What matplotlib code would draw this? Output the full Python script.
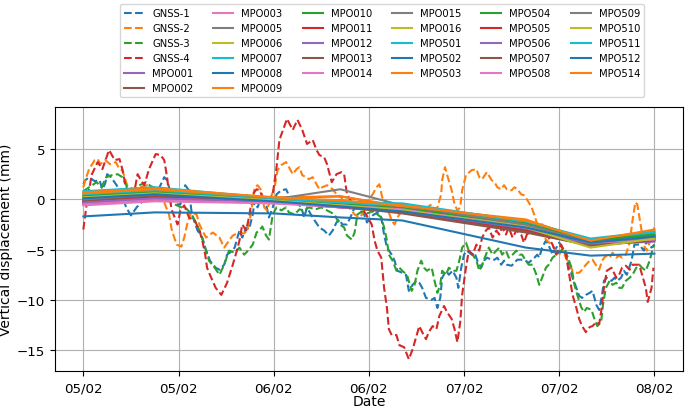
"""GNSS vs. levelling (MPO) vertical displacement time series -> out.png"""
import matplotlib
matplotlib.use('Agg')
import matplotlib.pyplot as plt

# x axis: one unit = one tick interval on the date axis
DATE_TICKS = [0, 1, 2, 3, 4, 5, 6]
DATE_LABELS = ['05/02', '05/02', '06/02', '06/02', '07/02', '07/02', '08/02']

# ---- GNSS stations (dense, dashed) ----
GNSS_1_X = [0.00, 0.02, 0.06, 0.12, 0.17, 0.20, 0.23, 0.25, 0.29, 0.35, 0.40, 0.45, 0.50, 0.56, 0.61,
            0.66, 0.72, 0.80, 0.85, 0.88, 0.92, 0.98, 1.02, 1.07, 1.11, 1.14, 1.20, 1.25, 1.28, 1.33,
            1.39, 1.43, 1.48, 1.51, 1.54, 1.59, 1.61, 1.64, 1.67, 1.71, 1.74, 1.78, 1.80, 1.83, 1.87,
            1.92, 1.95, 1.99, 2.03, 2.08, 2.13, 2.16, 2.20, 2.24, 2.29, 2.32, 2.35, 2.39, 2.43, 2.48,
            2.53, 2.58, 2.62, 2.66, 2.69, 2.72, 2.77, 2.82, 2.85, 2.90, 2.95, 2.98, 3.04, 3.09, 3.13,
            3.16, 3.19, 3.24, 3.27, 3.30, 3.35, 3.39, 3.42, 3.46, 3.50, 3.53, 3.56, 3.60, 3.66, 3.69,
            3.72, 3.75, 3.77, 3.81, 3.84, 3.88, 3.92, 3.94, 3.97, 4.00, 4.03, 4.08, 4.11, 4.14, 4.18,
            4.21, 4.24, 4.29, 4.32, 4.35, 4.39, 4.42, 4.45, 4.50, 4.53, 4.56, 4.60, 4.63, 4.68, 4.74,
            4.77, 4.79, 4.82, 4.86, 4.89, 4.93, 4.97, 5.00, 5.03, 5.07, 5.11, 5.14, 5.18, 5.21, 5.24,
            5.28, 5.32, 5.35, 5.39, 5.42, 5.45, 5.47, 5.50, 5.55, 5.58, 5.61, 5.65, 5.68, 5.71, 5.76,
            5.79, 5.84, 5.89, 5.92, 5.97, 6.00]
GNSS_1_Y = [1.5, 1.9, 2.2, 1.8, 1.9, 1.0, 1.6, 2.5, 2.2, 1.4, 0.5, -0.8, -1.6, -0.8, -0.3,
            0.2, 0.6, 1.2, 2.2, 1.9, 0.5, -0.5, -0.5, 1.4, 0.9, -1.5, -3.1, -3.8, -4.8, -6.1,
            -6.8, -7.0, -6.5, -5.5, -5.3, -4.8, -4.1, -3.1, -3.8, -2.8, -3.0, -1.5, -0.1, -0.8, 0.2,
            -0.5, -1.8, -0.8, 0.5, 0.9, 1.0, 0.4, -0.5, -0.3, -0.8, -1.8, -0.8, -1.5, -2.1, -2.8,
            -3.1, -3.6, -3.1, -2.3, -2.0, -2.5, -2.5, -1.5, -0.8, -1.1, -1.5, -2.3, -1.6, -1.3, -1.8,
            -3.5, -4.8, -5.5, -6.1, -7.1, -7.3, -7.5, -9.1, -8.5, -8.1, -8.3, -8.8, -9.8, -10.0, -9.8,
            -10.8, -9.8, -7.8, -7.1, -7.5, -7.1, -7.8, -8.8, -6.8, -5.5, -5.1, -5.5, -5.3, -6.1, -6.8,
            -6.1, -5.8, -6.0, -6.0, -5.8, -6.5, -6.1, -6.5, -6.6, -6.3, -6.0, -6.0, -6.0, -6.3, -5.8,
            -5.5, -5.8, -4.8, -4.1, -4.6, -5.5, -4.8, -4.3, -4.8, -5.5, -6.8, -7.8, -8.8, -9.6, -9.8,
            -9.5, -9.3, -9.1, -10.5, -11.0, -9.5, -8.1, -7.8, -8.1, -7.8, -8.1, -7.8, -7.1, -7.5, -6.1,
            -4.5, -4.5, -5.1, -4.1, -4.8, -4.5]

GNSS_2_X = [0.00, 0.02, 0.06, 0.12, 0.15, 0.18, 0.23, 0.28, 0.34, 0.38, 0.41, 0.46, 0.54, 0.60, 0.67,
            0.75, 0.80, 0.83, 0.87, 0.90, 0.93, 0.98, 1.03, 1.06, 1.09, 1.13, 1.19, 1.22, 1.25, 1.29,
            1.36, 1.43, 1.48, 1.53, 1.57, 1.64, 1.69, 1.72, 1.76, 1.80, 1.83, 1.87, 1.90, 1.93, 1.97,
            2.01, 2.04, 2.08, 2.13, 2.16, 2.20, 2.24, 2.27, 2.30, 2.34, 2.37, 2.41, 2.45, 2.48, 2.51,
            2.56, 2.62, 2.66, 2.71, 2.74, 2.79, 2.85, 2.90, 2.93, 2.97, 3.00, 3.04, 3.08, 3.11, 3.14,
            3.19, 3.24, 3.27, 3.30, 3.35, 3.40, 3.46, 3.51, 3.56, 3.61, 3.66, 3.69, 3.72, 3.76, 3.77,
            3.80, 3.82, 3.87, 3.90, 3.93, 3.96, 3.98, 4.02, 4.08, 4.13, 4.16, 4.19, 4.24, 4.29, 4.32,
            4.35, 4.39, 4.42, 4.45, 4.50, 4.53, 4.56, 4.60, 4.63, 4.66, 4.71, 4.74, 4.77, 4.82, 4.87,
            4.93, 4.97, 5.00, 5.03, 5.07, 5.11, 5.14, 5.18, 5.21, 5.24, 5.28, 5.32, 5.35, 5.39, 5.42,
            5.45, 5.49, 5.53, 5.56, 5.60, 5.63, 5.66, 5.70, 5.74, 5.77, 5.80, 5.82, 5.86, 5.89, 5.92,
            5.97, 6.00]
GNSS_2_Y = [1.2, 1.9, 3.0, 3.9, 4.0, 3.5, 3.9, 3.5, 3.7, 3.0, 2.9, 1.4, 0.9, 1.2, 1.4,
            1.2, 0.8, 0.2, -0.8, -1.5, -3.1, -4.5, -4.7, -3.8, -2.5, -1.3, -1.5, -2.5, -3.1, -3.8,
            -3.3, -3.8, -4.8, -4.1, -3.6, -3.3, -3.4, -3.1, -1.5, 1.2, 1.4, 0.9, -0.8, -1.1, 0.2,
            1.2, 2.9, 3.4, 3.7, 3.2, 2.5, 3.0, 3.2, 2.4, 2.2, 2.0, 2.2, 1.5, 1.0, 1.2,
            1.4, 1.0, 0.5, 0.2, -0.5, -0.8, -1.5, -1.8, -1.5, -0.8, 0.0, 0.5, 1.2, 1.5, 0.2,
            -0.8, -2.1, -2.5, -1.8, -1.1, -1.3, -1.5, -1.3, -1.1, -0.8, -0.5, -1.0, -0.8, 0.5, 1.9,
            3.2, 2.5, 0.9, -0.5, -1.1, -0.8, 0.9, 2.4, 2.9, 3.0, 2.2, 2.0, 2.7, 1.9, 1.7,
            1.2, 1.0, 1.4, 1.0, 0.9, 1.2, 1.0, 0.5, 0.4, 0.0, -0.8, -1.6, -2.5, -3.5, -4.1,
            -4.6, -5.2, -5.5, -5.0, -5.8, -6.5, -7.1, -7.3, -7.3, -7.0, -6.5, -6.1, -6.0, -6.6, -7.0,
            -6.1, -5.6, -5.8, -5.3, -5.8, -5.6, -5.8, -5.5, -4.3, -2.1, -0.3, -0.5, -2.8, -4.6, -5.1,
            -3.8, -2.8]

GNSS_3_X = [0.00, 0.06, 0.14, 0.19, 0.24, 0.30, 0.36, 0.41, 0.46, 0.51, 0.59, 0.66, 0.72, 0.80, 0.85,
            0.90, 0.96, 1.03, 1.08, 1.14, 1.22, 1.27, 1.32, 1.38, 1.43, 1.48, 1.53, 1.59, 1.64, 1.69,
            1.74, 1.78, 1.82, 1.85, 1.88, 1.92, 1.95, 1.99, 2.03, 2.08, 2.13, 2.16, 2.22, 2.27, 2.32,
            2.37, 2.44, 2.50, 2.56, 2.64, 2.67, 2.71, 2.74, 2.77, 2.82, 2.85, 2.88, 2.93, 2.98, 3.04,
            3.09, 3.13, 3.16, 3.19, 3.21, 3.25, 3.29, 3.32, 3.35, 3.40, 3.45, 3.48, 3.51, 3.55, 3.58,
            3.61, 3.66, 3.69, 3.72, 3.75, 3.77, 3.81, 3.84, 3.88, 3.92, 3.95, 3.98, 4.02, 4.05, 4.09,
            4.13, 4.16, 4.19, 4.23, 4.26, 4.30, 4.34, 4.37, 4.40, 4.44, 4.47, 4.51, 4.55, 4.58, 4.61,
            4.65, 4.68, 4.72, 4.76, 4.79, 4.82, 4.86, 4.89, 4.93, 4.97, 5.02, 5.05, 5.08, 5.13, 5.16,
            5.19, 5.23, 5.26, 5.29, 5.34, 5.37, 5.40, 5.44, 5.46, 5.49, 5.53, 5.56, 5.60, 5.63, 5.66,
            5.70, 5.74, 5.77, 5.81, 5.84, 5.87, 5.91, 5.95, 5.98, 6.00]
GNSS_3_Y = [0.8, 1.2, 1.7, 1.2, 2.2, 2.4, 2.5, 2.2, 1.2, 0.9, 1.4, 1.7, 1.2, 0.6, 0.3,
            -0.2, -0.5, -0.8, -0.9, -1.5, -3.1, -4.5, -6.1, -6.8, -7.5, -6.5, -5.1, -5.3, -4.8, -5.5,
            -5.0, -4.5, -3.3, -3.1, -2.7, -3.6, -4.0, -1.5, -0.8, -1.1, -0.8, -1.3, -1.5, -1.0, -1.1,
            -0.8, -1.0, -0.8, -1.1, -1.5, -2.1, -2.6, -2.8, -3.6, -4.0, -3.3, -1.5, -1.2, -1.4, -1.2,
            -1.5, -1.8, -2.8, -4.1, -5.5, -6.1, -7.1, -6.8, -7.1, -7.5, -9.1, -8.5, -7.1, -6.1, -6.8,
            -7.1, -6.8, -8.1, -9.3, -8.5, -7.1, -7.5, -6.8, -7.1, -7.1, -6.1, -4.8, -4.3, -5.1, -5.5,
            -6.1, -7.1, -6.5, -5.5, -4.8, -5.5, -5.1, -4.8, -5.5, -5.1, -5.8, -5.5, -5.1, -5.5, -5.5,
            -6.1, -6.5, -6.5, -7.5, -8.5, -7.8, -6.8, -6.5, -5.8, -5.5, -5.1, -4.8, -5.5, -6.8, -8.5,
            -9.5, -10.7, -11.2, -10.8, -11.0, -11.9, -12.6, -12.2, -10.5, -8.8, -8.1, -8.5, -8.3, -8.8, -8.8,
            -8.1, -7.8, -7.5, -6.8, -6.5, -6.8, -7.1, -6.1, -5.0, -4.5]

GNSS_4_X = [0.00, 0.04, 0.09, 0.15, 0.20, 0.27, 0.33, 0.38, 0.41, 0.44, 0.49, 0.54, 0.57, 0.60, 0.64,
            0.69, 0.76, 0.81, 0.85, 0.88, 0.90, 0.93, 0.99, 1.02, 1.06, 1.11, 1.17, 1.22, 1.25, 1.28,
            1.30, 1.33, 1.39, 1.45, 1.51, 1.57, 1.61, 1.64, 1.67, 1.71, 1.74, 1.78, 1.82, 1.85, 1.90,
            1.95, 1.99, 2.03, 2.06, 2.11, 2.14, 2.20, 2.25, 2.30, 2.35, 2.41, 2.45, 2.48, 2.53, 2.56,
            2.61, 2.66, 2.71, 2.74, 2.77, 2.82, 2.85, 2.92, 2.97, 3.03, 3.06, 3.09, 3.13, 3.16, 3.19,
            3.21, 3.24, 3.29, 3.32, 3.37, 3.42, 3.46, 3.50, 3.53, 3.56, 3.60, 3.63, 3.67, 3.71, 3.74,
            3.79, 3.82, 3.87, 3.90, 3.93, 3.96, 3.98, 4.02, 4.05, 4.09, 4.13, 4.16, 4.19, 4.23, 4.26,
            4.30, 4.34, 4.37, 4.40, 4.44, 4.47, 4.51, 4.55, 4.60, 4.63, 4.66, 4.72, 4.76, 4.82, 4.87,
            4.93, 4.97, 5.02, 5.07, 5.11, 5.14, 5.18, 5.21, 5.24, 5.28, 5.32, 5.35, 5.39, 5.42, 5.44,
            5.47, 5.50, 5.55, 5.60, 5.63, 5.66, 5.70, 5.74, 5.77, 5.81, 5.84, 5.87, 5.91, 5.93, 5.97,
            5.99]
GNSS_4_Y = [-3.0, -0.1, 2.5, 3.7, 3.0, 4.9, 3.9, 4.0, 3.0, 1.5, 0.2, 1.0, 2.5, 2.0, 1.4,
            3.0, 4.5, 4.4, 3.9, 2.2, 0.5, -1.1, -2.5, -1.1, -0.6, -1.8, -2.1, -3.1, -4.1, -5.5,
            -6.8, -7.5, -8.8, -9.5, -8.3, -6.5, -5.2, -4.1, -2.5, -3.1, -1.8, 0.5, 1.0, 0.9, -0.1,
            -0.1, 0.5, 3.2, 5.9, 7.2, 8.0, 6.9, 7.9, 6.9, 5.5, 5.9, 4.9, 4.4, 4.2, 3.5,
            1.7, 2.5, 2.7, 2.5, 0.5, -0.3, -0.5, -0.8, -1.5, -2.5, -4.1, -5.1, -5.8, -8.8, -10.8,
            -12.9, -13.5, -13.5, -14.5, -14.7, -15.9, -14.9, -13.6, -12.6, -13.2, -13.9, -13.2, -12.6, -12.9, -11.6,
            -10.6, -11.2, -11.9, -12.9, -14.2, -12.2, -9.5, -6.8, -5.1, -5.5, -4.5, -5.1, -3.8, -3.1, -2.8,
            -3.8, -3.1, -3.5, -2.8, -3.5, -2.8, -3.8, -3.1, -3.5, -4.3, -3.5, -3.1, -2.8, -2.5, -3.5,
            -4.5, -5.5, -4.5, -5.5, -7.8, -9.5, -10.8, -11.9, -12.6, -13.2, -12.7, -12.6, -12.2, -12.4, -11.2,
            -8.8, -7.1, -6.8, -7.8, -7.5, -6.8, -6.6, -7.0, -6.5, -6.5, -6.5, -7.5, -8.8, -10.2, -8.8,
            -6.8]

# ---- MPO levelling benchmarks (campaign epochs, solid) ----
MPO_EPOCHS = [0.0, 0.75, 2.0, 2.7, 3.35, 4.65, 5.33, 6.0]
MPO001 = [-0.3, 0.1, -0.2, -0.6, -1.1, -2.7, -4.3, -3.9]
MPO002 = [-0.2, 0.3, -0.1, -0.5, -1.0, -2.9, -4.4, -3.8]
MPO003 = [-0.5, -0.1, -0.3, -0.7, -1.2, -2.8, -4.4, -4.0]
MPO005 = [0.2, 0.6, 0.1, 0.3, -0.8, -2.4, -4.2, -3.6]
MPO006 = [0.3, 0.8, 0.0, -0.4, -0.9, -2.5, -4.5, -3.7]
MPO007 = [0.6, 1.0, 0.1, -0.3, -0.6, -2.2, -4.0, -3.4]
MPO008 = [0.0, 0.4, -0.2, -0.6, -1.0, -2.6, -4.2, -3.7]
MPO009 = [0.5, 0.9, 0.1, -0.2, -0.7, -2.2, -4.1, -3.3]
MPO010 = [0.1, 0.6, -0.1, -0.5, -1.0, -2.5, -4.3, -3.6]
MPO011 = [-0.4, 0.0, -0.3, -0.8, -1.3, -3.1, -4.5, -3.9]
MPO012 = [-0.1, 0.3, -0.3, -0.6, -1.1, -2.7, -4.4, -4.0]
MPO013 = [-0.3, 0.2, -0.2, -0.6, -1.3, -3.2, -4.6, -4.0]
MPO014 = [-0.4, 0.0, -0.4, -0.8, -1.1, -2.6, -4.3, -3.9]
MPO015 = [0.1, 0.5, 0.0, -0.1, -0.9, -2.6, -4.3, -3.7]
MPO016 = [0.2, 0.7, 0.0, -0.4, -1.0, -2.7, -4.6, -3.8]
MPO501 = [0.4, 0.9, 0.0, -0.5, -0.5, -2.3, -4.0, -3.3]
MPO502 = [-1.7, -1.3, -1.4, -1.8, -2.1, -4.8, -5.6, -5.4]
MPO503 = [0.6, 1.0, 0.2, 0.3, -0.7, -2.0, -4.2, -3.1]
MPO504 = [0.3, 0.7, -0.1, -0.5, -0.9, -2.4, -4.1, -3.5]
MPO505 = [-0.2, 0.2, -0.2, -0.7, -1.2, -3.0, -4.4, -3.8]
MPO506 = [-0.3, 0.1, -0.2, -0.8, -1.2, -2.9, -4.5, -4.2]
MPO507 = [-0.1, 0.4, -0.1, -0.7, -1.4, -3.3, -4.6, -4.1]
MPO508 = [-0.6, -0.2, -0.4, -0.6, -1.0, -2.8, -4.3, -4.0]
MPO509 = [0.0, 0.5, 0.0, 1.0, -0.6, -2.5, -4.3, -3.8]
MPO510 = [0.2, 0.6, -0.1, -0.6, -1.1, -2.8, -4.8, -3.9]
MPO511 = [0.8, 1.2, 0.1, -0.3, -0.4, -2.2, -3.9, -3.2]
MPO512 = [0.1, 0.5, -0.2, -0.7, -1.2, -2.8, -4.3, -3.7]
MPO514 = [0.7, 1.1, 0.2, -0.1, -0.6, -2.1, -4.1, -3.0]

GNSS = {
    'GNSS-1': (GNSS_1_X, GNSS_1_Y),
    'GNSS-2': (GNSS_2_X, GNSS_2_Y),
    'GNSS-3': (GNSS_3_X, GNSS_3_Y),
    'GNSS-4': (GNSS_4_X, GNSS_4_Y),
}
MPO = {
    'MPO001': MPO001, 'MPO002': MPO002, 'MPO003': MPO003, 'MPO005': MPO005,
    'MPO006': MPO006, 'MPO007': MPO007, 'MPO008': MPO008, 'MPO009': MPO009,
    'MPO010': MPO010, 'MPO011': MPO011, 'MPO012': MPO012, 'MPO013': MPO013,
    'MPO014': MPO014, 'MPO015': MPO015, 'MPO016': MPO016, 'MPO501': MPO501,
    'MPO502': MPO502, 'MPO503': MPO503, 'MPO504': MPO504, 'MPO505': MPO505,
    'MPO506': MPO506, 'MPO507': MPO507, 'MPO508': MPO508, 'MPO509': MPO509,
    'MPO510': MPO510, 'MPO511': MPO511, 'MPO512': MPO512, 'MPO514': MPO514,
}


def main():
    fig = plt.figure(figsize=(6.85, 4.10), dpi=100)
    ax = fig.add_axes([0.080, 0.092, 0.917, 0.645])

    # GNSS first (dashed), MPO on top; colours follow the default cycle
    for name, (x, y) in GNSS.items():
        ax.plot(x, y, '--', lw=1.5, label=name)
    for name, y in MPO.items():
        ax.plot(MPO_EPOCHS, y, '-', lw=1.5, label=name)

    ax.set_xticks(DATE_TICKS)
    ax.set_xticklabels(DATE_LABELS)
    ax.tick_params(labelsize=9.6)
    ax.set_xlabel('Date', fontsize=10, labelpad=0)
    ax.set_ylabel('Vertical displacement (mm)', fontsize=10, labelpad=3)
    ax.grid(True)

    fig.legend(loc='upper left', bbox_to_anchor=(0.168, 1.0), ncol=6, fontsize=7.2)
    fig.savefig('out.png', dpi=100)
    plt.close(fig)


if __name__ == '__main__':
    main()
